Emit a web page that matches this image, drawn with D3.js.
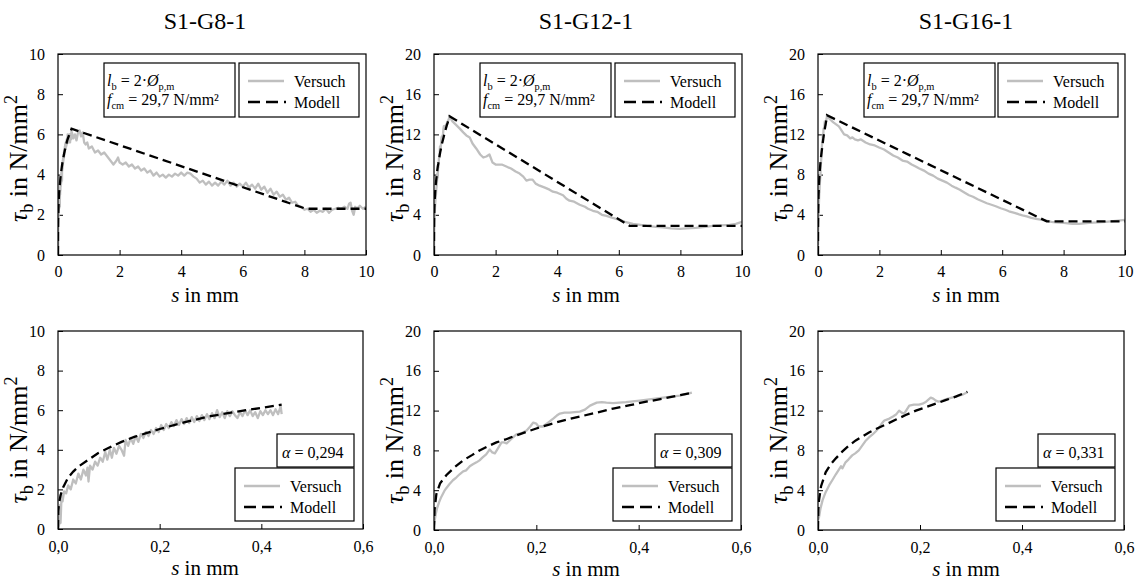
<!DOCTYPE html>
<html>
<head>
<meta charset="utf-8">
<script src="https://cdn.jsdelivr.net/npm/d3@7"></script>
<style>
  body { margin: 0; background: #fff; }
  text, tspan { font-family: "Liberation Serif", serif !important; }
</style>
</head>
<body>
<svg id="chart" width="1136" height="584"></svg>
<script>
// ---- Specimens ----
const specimens = ["S1-G8-1", "S1-G12-1", "S1-G16-1"];
const alphaValues = ["0,294", "0,309", "0,331"];
const tauMax = [10, 20, 20];
const tauTicksG8 = [0, 2, 4, 6, 8, 10];
const tauTicksG12 = [0, 4, 8, 12, 16, 20];
const slipTicksFull = [0, 2, 4, 6, 8, 10];
const slipTicksAsc = [0, 0.2, 0.4, 0.6];
const legendLabels = ["Versuch", "Modell"];

// ---- S1-G8-1: ascending branch (test / model), [s in mm, tau_b in N/mm²] ----
const g8AscVersuch = [[0,0],[0.002,0.2],[0.004,1.2],[0.005,0.3],[0.007,1.7],[0.009,1.4],[0.012,1.9],[0.016,1.8],[0.02,2.2],[0.025,2.0],[0.03,2.5],[0.035,2.3],[0.04,2.8],[0.045,2.5],[0.05,3.0],[0.055,2.7],[0.058,3.1],[0.06,2.4],[0.063,3.2],[0.068,3.0],[0.073,3.4],[0.078,3.2],[0.083,3.6],[0.088,3.4],[0.093,3.9],[0.097,3.5],[0.102,4.0],[0.106,3.6],[0.11,4.1],[0.115,3.8],[0.12,4.2],[0.125,4.0],[0.13,3.7],[0.133,4.5],[0.138,4.2],[0.143,4.6],[0.148,4.3],[0.153,4.7],[0.158,4.4],[0.163,4.8],[0.168,4.6],[0.173,4.9],[0.178,4.7],[0.183,5.0],[0.188,4.8],[0.193,5.1],[0.198,4.9],[0.203,5.25],[0.208,5.0],[0.213,5.3],[0.218,5.1],[0.223,5.4],[0.228,5.2],[0.233,5.5],[0.238,5.25],[0.243,5.55],[0.248,5.3],[0.253,5.6],[0.258,5.35],[0.263,5.65],[0.268,5.4],[0.273,5.7],[0.278,5.45],[0.283,5.75],[0.288,5.5],[0.293,5.8],[0.298,5.55],[0.303,5.85],[0.308,5.6],[0.313,6.0],[0.318,5.65],[0.323,5.9],[0.328,5.6],[0.333,5.95],[0.338,5.7],[0.343,5.95],[0.348,5.75],[0.353,5.6],[0.358,5.9],[0.363,5.7],[0.368,6.0],[0.373,5.75],[0.378,6.0],[0.383,5.7],[0.388,5.9],[0.393,5.6],[0.398,5.95],[0.403,5.75],[0.408,6.0],[0.413,5.8],[0.418,6.0],[0.423,5.75],[0.428,6.05],[0.433,5.8],[0.438,6.2],[0.44,5.8]];
const g8AscModell = [[0,0],[0.0005,0.9],[0.002,1.3],[0.005,1.7],[0.01,2.1],[0.02,2.6],[0.03,2.9],[0.04,3.15],[0.06,3.5],[0.08,3.85],[0.1,4.1],[0.125,4.4],[0.15,4.65],[0.175,4.85],[0.2,5.05],[0.25,5.4],[0.3,5.7],[0.35,5.92],[0.4,6.12],[0.44,6.28]];
// ---- S1-G8-1: post-peak branch ----
const g8DescVersuch = [[0.45,6.1],[0.5,5.8],[0.55,6.0],[0.6,5.7],[0.65,6.1],[0.7,6.2],[0.75,5.9],[0.8,6.1],[0.85,5.6],[0.9,5.5],[0.95,5.6],[1.0,5.3],[1.1,5.4],[1.2,5.1],[1.3,5.2],[1.4,5.0],[1.5,5.1],[1.6,4.9],[1.7,4.7],[1.8,4.5],[1.9,4.7],[1.95,4.85],[2.0,4.6],[2.1,4.5],[2.2,4.6],[2.3,4.4],[2.4,4.5],[2.5,4.3],[2.6,4.4],[2.7,4.2],[2.8,4.3],[2.9,4.1],[3.0,4.2],[3.1,3.95],[3.2,4.1],[3.3,3.9],[3.4,4.0],[3.5,3.85],[3.6,4.0],[3.7,3.9],[3.8,4.05],[3.9,3.95],[4.0,4.1],[4.1,3.95],[4.2,4.1],[4.3,4.05],[4.4,3.9],[4.5,3.8],[4.6,3.6],[4.7,3.7],[4.8,3.5],[4.9,3.65],[5.0,3.45],[5.1,3.6],[5.2,3.45],[5.3,3.65],[5.4,3.5],[5.5,3.7],[5.6,3.45],[5.7,3.6],[5.8,3.4],[5.9,3.55],[6.0,3.4],[6.1,3.6],[6.2,3.35],[6.3,3.5],[6.4,3.3],[6.5,3.55],[6.6,3.25],[6.7,3.4],[6.8,3.1],[6.9,3.3],[7.0,3.0],[7.1,3.15],[7.2,2.9],[7.3,3.0],[7.4,2.75],[7.5,2.85],[7.6,2.6],[7.7,2.65],[7.8,2.45],[7.9,2.4],[8.0,2.25],[8.1,2.3],[8.2,2.15],[8.3,2.25],[8.4,2.1],[8.5,2.2],[8.6,2.15],[8.7,2.3],[8.8,2.1],[8.9,2.25],[9.0,2.3],[9.1,2.35],[9.2,2.3],[9.3,2.4],[9.4,2.3],[9.45,2.55],[9.5,2.6],[9.55,2.2],[9.6,2.0],[9.65,2.4],[9.7,2.3],[9.8,2.45],[9.9,2.3],[10.0,2.4]];
const g8DescModell = [[8.05,2.3],[10,2.3]];

// ---- S1-G12-1 ----
const g12AscVersuch = [[0,0.5],[0.003,1.5],[0.006,2.2],[0.01,2.8],[0.014,3.3],[0.02,3.9],[0.024,4.2],[0.03,4.6],[0.037,5.0],[0.044,5.3],[0.05,5.6],[0.057,5.9],[0.063,6.0],[0.07,6.4],[0.076,6.6],[0.083,6.8],[0.089,7.0],[0.095,7.3],[0.102,7.6],[0.109,8.1],[0.114,7.8],[0.119,7.7],[0.125,8.2],[0.132,8.8],[0.137,8.8],[0.142,8.7],[0.15,9.1],[0.161,9.6],[0.17,9.7],[0.181,10.0],[0.188,10.4],[0.194,10.8],[0.2,10.7],[0.204,10.4],[0.213,10.4],[0.223,10.8],[0.233,11.2],[0.24,11.5],[0.246,11.7],[0.255,11.8],[0.265,11.8],[0.275,11.85],[0.285,11.9],[0.295,12.1],[0.305,12.5],[0.318,12.8],[0.328,12.85],[0.337,12.8],[0.35,12.75],[0.375,12.85],[0.402,13.0],[0.425,13.15],[0.448,13.3],[0.48,13.5],[0.504,13.8]];
const g12AscModell = [[0,0],[0.001,2.0],[0.0046,3.6],[0.012,4.7],[0.024,5.5],[0.04,6.3],[0.057,7.0],[0.075,7.55],[0.089,8.0],[0.105,8.4],[0.122,8.8],[0.14,9.1],[0.155,9.4],[0.18,9.85],[0.2,10.2],[0.225,10.6],[0.252,11.0],[0.285,11.4],[0.318,11.8],[0.35,12.2],[0.383,12.55],[0.415,12.9],[0.448,13.2],[0.475,13.5],[0.504,13.8]];
const g12DescVersuch = [[0.6,13.3],[0.7,13.0],[0.83,12.6],[0.95,12.2],[1.05,11.9],[1.16,11.7],[1.25,11.1],[1.37,10.6],[1.5,10.0],[1.6,9.7],[1.7,9.8],[1.8,10.0],[1.9,9.2],[2.0,9.0],[2.2,9.0],[2.35,8.8],[2.5,8.6],[2.65,8.3],[2.78,8.1],[2.9,7.8],[3.0,7.4],[3.1,7.5],[3.2,7.5],[3.3,7.1],[3.43,6.9],[3.6,6.7],[3.75,6.5],[3.86,6.3],[4.0,6.2],[4.19,5.95],[4.3,5.6],[4.4,5.4],[4.55,5.3],[4.73,5.0],[4.9,4.8],[5.0,4.6],[5.16,4.4],[5.3,4.3],[5.45,4.0],[5.6,3.9],[5.8,3.7],[6.03,3.5],[6.2,3.3],[6.46,3.1],[6.7,3.0],[6.9,2.9],[7.2,2.8],[7.43,2.75],[7.7,2.65],[7.98,2.6],[8.2,2.65],[8.5,2.7],[8.8,2.8],[9.06,2.9],[9.3,2.95],[9.6,3.0],[9.8,3.1],[10,3.3]];
const g12DescModell = [[6.35,2.9],[10,2.9]];

// ---- S1-G16-1 ----
const g16AscVersuch = [[0,1.0],[0.002,1.3],[0.005,2.2],[0.009,3.0],[0.015,3.8],[0.022,4.5],[0.028,5.0],[0.035,5.6],[0.04,6.0],[0.045,6.4],[0.048,6.2],[0.054,6.8],[0.06,7.1],[0.067,7.5],[0.073,7.7],[0.08,8.0],[0.087,8.5],[0.094,9.0],[0.1,9.3],[0.107,9.6],[0.113,9.9],[0.12,10.3],[0.125,10.7],[0.13,11.0],[0.135,11.1],[0.14,11.2],[0.147,11.4],[0.153,11.6],[0.159,12.0],[0.164,11.8],[0.169,11.7],[0.174,12.1],[0.179,12.5],[0.188,12.6],[0.198,12.6],[0.205,12.7],[0.212,12.9],[0.221,13.3],[0.226,13.2],[0.231,13.0],[0.236,12.9],[0.241,12.95],[0.255,13.2],[0.27,13.4],[0.283,13.6],[0.293,13.85]];
const g16AscModell = [[0,0],[0.0005,2.0],[0.002,3.0],[0.006,4.4],[0.015,5.8],[0.025,6.6],[0.035,7.2],[0.048,7.9],[0.061,8.5],[0.074,9.0],[0.087,9.4],[0.1,9.8],[0.12,10.3],[0.137,10.7],[0.153,11.1],[0.172,11.55],[0.192,12.0],[0.212,12.35],[0.231,12.7],[0.25,13.05],[0.27,13.4],[0.293,13.9]];
const g16DescVersuch = [[0.36,13.6],[0.5,13.2],[0.68,12.8],[0.85,12.0],[0.95,11.9],[1.05,11.6],[1.12,11.7],[1.2,11.5],[1.3,11.4],[1.4,11.5],[1.55,11.2],[1.7,11.0],[1.85,10.9],[1.99,10.7],[2.15,10.5],[2.3,10.2],[2.45,9.9],[2.6,9.7],[2.75,9.4],[2.9,9.3],[3.05,9.0],[3.18,8.8],[3.3,8.6],[3.45,8.4],[3.6,8.1],[3.75,7.9],[3.9,7.6],[4.05,7.4],[4.2,7.2],[4.35,6.9],[4.48,6.7],[4.62,6.5],[4.78,6.2],[4.92,5.95],[5.05,5.8],[5.2,5.55],[5.35,5.35],[5.5,5.15],[5.65,5.0],[5.79,4.85],[5.95,4.65],[6.1,4.5],[6.22,4.35],[6.4,4.2],[6.55,4.05],[6.66,3.95],[6.8,3.85],[6.95,3.7],[7.1,3.6],[7.2,3.55],[7.4,3.45],[7.6,3.3],[7.74,3.25],[8.0,3.2],[8.28,3.1],[8.5,3.1],[8.83,3.2],[9.1,3.25],[9.37,3.3],[9.7,3.4],[10,3.5]];
const g16DescModell = [[7.45,3.35],[10,3.35]];

const ascVersuch = [g8AscVersuch, g12AscVersuch, g16AscVersuch];
const ascModell = [g8AscModell, g12AscModell, g16AscModell];
const descVersuch = [g8DescVersuch, g12DescVersuch, g16DescVersuch];
const descModell = [g8DescModell, g12DescModell, g16DescModell];

// ---- Layout ----
const topFrames = [
  { x0: 58, x1: 366, y0: 54, y1: 255 },
  { x0: 434, x1: 742, y0: 54, y1: 255 },
  { x0: 818, x1: 1125, y0: 54, y1: 255 }
];
const bottomFrames = [
  { x0: 58, x1: 363, y0: 331, y1: 529 },
  { x0: 434, x1: 741, y0: 331, y1: 530 },
  { x0: 818, x1: 1124, y0: 331, y1: 530 }
];
const columnCenters = [205, 586, 966];

const SERIF = "Liberation Serif";
const GRAY = "#bfbfbf";
const DASH = "9,5";
const svg = d3.select("#chart").attr("font-family", SERIF);
const commaFmt = d => d3.format(".1f")(d).replace(".", ",");

// Writes a sequence of styled runs (italic / subscript / superscript) into a text node
function richText(textSel, runs, size, scriptScale = 0.65) {
  let shift = 0;
  runs.forEach(r => {
    const target = r.sub ? size * 0.22 : r.sup ? -size * 0.38 : 0;
    const ts = textSel.append("tspan").text(r.t);
    if (r.italic) ts.attr("font-style", "italic");
    if (r.sub || r.sup) ts.attr("font-size", size * scriptScale);
    if (target !== shift) { ts.attr("dy", target - shift); shift = target; }
  });
}

let clipId = 0;
function drawPanel(frame, xDomain, xTicks, xFmt, yDomain, yTicks, versuch, modell, xLabelX, xLabelOffset, tickPad, yLabelShift) {
  const x = d3.scaleLinear().domain(xDomain).range([frame.x0, frame.x1]);
  const y = d3.scaleLinear().domain(yDomain).range([frame.y1, frame.y0]);
  const g = svg.append("g");

  const id = "clip" + (clipId++);
  g.append("clipPath").attr("id", id).append("rect")
    .attr("x", frame.x0).attr("y", frame.y0)
    .attr("width", frame.x1 - frame.x0).attr("height", frame.y1 - frame.y0);

  const xAxis = g.append("g").attr("transform", `translate(0,${frame.y1})`)
    .call(d3.axisBottom(x).tickValues(xTicks).tickFormat(xFmt)
      .tickSizeInner(-5).tickSizeOuter(0).tickPadding(tickPad));
  const yAxis = g.append("g").attr("transform", `translate(${frame.x0},0)`)
    .call(d3.axisLeft(y).tickValues(yTicks).tickFormat(d3.format("d"))
      .tickSizeInner(-5).tickSizeOuter(0).tickPadding(13));
  [xAxis, yAxis].forEach(a => {
    a.attr("font-family", SERIF).attr("font-size", 16);
    a.select(".domain").remove();
    a.selectAll(".tick line").attr("stroke", "#000").attr("stroke-width", 1);
    a.selectAll(".tick text").attr("font-size", 16);
  });

  const line = d3.line().x(d => x(d[0])).y(d => y(d[1]));
  const plot = g.append("g").attr("clip-path", `url(#${id})`);
  plot.append("path").datum(versuch).attr("d", line)
    .attr("fill", "none").attr("stroke", GRAY).attr("stroke-width", 2.3)
    .attr("stroke-linejoin", "round");
  plot.append("path").datum(modell).attr("d", line)
    .attr("fill", "none").attr("stroke", "#000").attr("stroke-width", 2.3)
    .attr("stroke-dasharray", DASH);

  g.append("rect").attr("x", frame.x0).attr("y", frame.y0)
    .attr("width", frame.x1 - frame.x0).attr("height", frame.y1 - frame.y0)
    .attr("fill", "none").attr("stroke", "#000").attr("stroke-width", 1.2);

  // axis titles
  const yl = g.append("text").attr("text-anchor", "middle").attr("font-size", 26)
    .attr("transform", `translate(${frame.x0 - 31},${(frame.y0 + frame.y1) / 2 + yLabelShift}) rotate(-90)`);
  richText(yl, [{ t: "τ", italic: true }, { t: "b", sub: true }, { t: " in N/mm" }, { t: "2", sup: true }], 26, 0.7);

  const xl = g.append("text").attr("text-anchor", "middle").attr("font-size", 21)
    .attr("x", xLabelX).attr("y", frame.y1 + xLabelOffset);
  richText(xl, [{ t: "s", italic: true }, { t: " in mm" }], 21);

  return g;
}

function legendEntries(g, bx, by) {
  g.append("line").attr("x1", bx + 9).attr("x2", bx + 45).attr("y1", by + 18).attr("y2", by + 18)
    .attr("stroke", GRAY).attr("stroke-width", 2.3);
  g.append("line").attr("x1", bx + 9).attr("x2", bx + 47).attr("y1", by + 39).attr("y2", by + 39)
    .attr("stroke", "#000").attr("stroke-width", 2.3).attr("stroke-dasharray", "12,6");
  g.append("text").attr("x", bx + 55).attr("y", by + 24).attr("font-size", 16).text(legendLabels[0]);
  g.append("text").attr("x", bx + 55).attr("y", by + 45).attr("font-size", 16).text(legendLabels[1]);
}

function box(g, x, y, w, h) {
  g.append("rect").attr("x", x).attr("y", y).attr("width", w).attr("height", h)
    .attr("fill", "#fff").attr("stroke", "#000").attr("stroke-width", 1.2);
}

specimens.forEach((name, i) => {
  const yTicks = tauMax[i] === 10 ? tauTicksG8 : tauTicksG12;

  // full bond-slip curve
  const tf = topFrames[i];
  const gt = drawPanel(tf, [0, 10], slipTicksFull, d3.format("d"), [0, tauMax[i]], yTicks,
    ascVersuch[i].concat(descVersuch[i]), ascModell[i].concat(descModell[i]),
    columnCenters[i], 47, 11, 4);

  svg.append("text").attr("x", columnCenters[i]).attr("y", 29)
    .attr("text-anchor", "middle").attr("font-size", 24).text(name);

  // parameter box
  const px = tf.x0 + 46, py = tf.y0 + 9;
  box(gt, px, py, 131, 54);
  const l1 = gt.append("text").attr("x", px + 3).attr("y", py + 23).attr("font-size", 16);
  richText(l1, [{ t: "l", italic: true }, { t: "b", sub: true }, { t: " = 2·" }, { t: "Ø", italic: true }, { t: "p,m", sub: true }], 16);
  const l2 = gt.append("text").attr("x", px + 3).attr("y", py + 42).attr("font-size", 16);
  richText(l2, [{ t: "f", italic: true }, { t: "cm", sub: true }, { t: " = 29,7 N/mm²" }], 16);

  // legend box
  const lx = tf.x1 - 7 - 120, ly = tf.y0 + 9;
  box(gt, lx, ly, 120, 54);
  legendEntries(gt, lx, ly);

  // ascending branch
  const bf = bottomFrames[i];
  const gb = drawPanel(bf, [0, 0.6], slipTicksAsc, commaFmt, [0, tauMax[i]], yTicks,
    ascVersuch[i], ascModell[i], columnCenters[i], 46, 12, 10);

  const ax = bf.x1 - 9 - 77, ay = bf.y0 + 103;
  box(gb, ax, ay, 77, 33);
  const at = gb.append("text").attr("x", ax + 5).attr("y", ay + 24).attr("font-size", 16);
  richText(at, [{ t: "α", italic: true }, { t: " = " + alphaValues[i] }], 16);

  const bx = bf.x1 - 9 - 119, by = bf.y0 + 137;
  box(gb, bx, by, 119, 53);
  legendEntries(gb, bx, by);
});
</script>
</body>
</html>
